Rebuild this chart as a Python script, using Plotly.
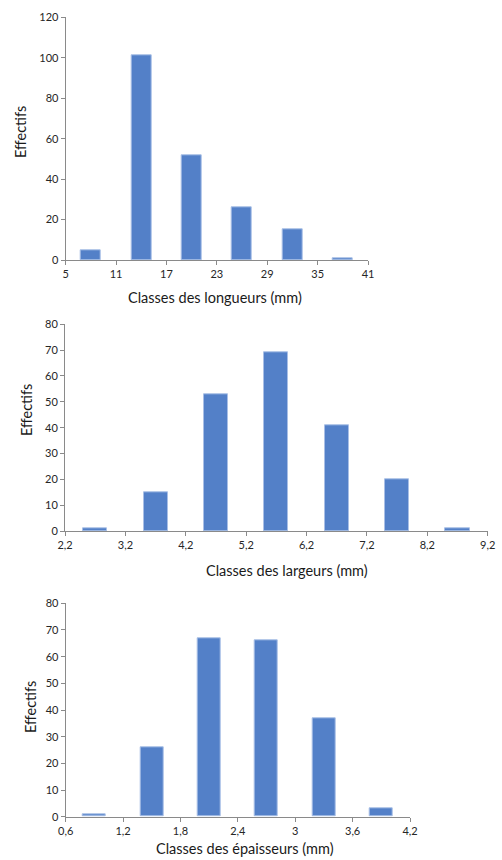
import plotly.graph_objects as go

# Data
long_centers = [8, 14, 20, 26, 32, 38]
long_counts = [5, 101, 52, 26, 15, 1]
long_ticks = [5, 11, 17, 23, 29, 35, 41]
long_ticktext = ["5", "11", "17", "23", "29", "35", "41"]

larg_centers = [2.7, 3.7, 4.7, 5.7, 6.7, 7.7, 8.7]
larg_counts = [1, 15, 53, 69, 41, 20, 1]
larg_ticks = [2.2, 3.2, 4.2, 5.2, 6.2, 7.2, 8.2, 9.2]
larg_ticktext = ["2,2", "3,2", "4,2", "5,2", "6,2", "7,2", "8,2", "9,2"]

ep_centers = [0.9, 1.5, 2.1, 2.7, 3.3, 3.9]
ep_counts = [1, 26, 67, 66, 37, 3]
ep_ticks = [0.6, 1.2, 1.8, 2.4, 3.0, 3.6, 4.2]
ep_ticktext = ["0,6", "1,2", "1,8", "2,4", "3", "3,6", "4,2"]

BAR = "#5380C8"
AXC = "#8a8a8a"
FONT = "Lato"

fig = go.Figure()
fig.add_trace(go.Bar(x=long_centers, y=long_counts, width=2.4, xaxis="x", yaxis="y",
                     marker=dict(color=BAR, line=dict(color="#a9bfe6", width=1))))
fig.add_trace(go.Bar(x=larg_centers, y=larg_counts, width=0.4, xaxis="x2", yaxis="y2",
                     marker=dict(color=BAR, line=dict(color="#a9bfe6", width=1))))
fig.add_trace(go.Bar(x=ep_centers, y=ep_counts, width=0.24, xaxis="x3", yaxis="y3",
                     marker=dict(color=BAR, line=dict(color="#a9bfe6", width=1))))

W, H = 502, 860

def dom_x(a, b):
    return [a / W, b / W]

def dom_y(top, bottom):
    return [(H - bottom) / H, (H - top) / H]

def xax(dom, rng, tv, tt, anchor):
    return dict(domain=dom, range=rng, tickvals=tv, ticktext=tt, anchor=anchor,
                showgrid=False, zeroline=False, showline=True, linecolor=AXC, linewidth=1,
                ticks="outside", ticklen=4, tickcolor=AXC, automargin=False,
                tickfont=dict(family=FONT, size=11, color="#262626"))

def yax(dom, rng, dt, anchor):
    return dict(domain=dom, range=rng, dtick=dt, tick0=0, anchor=anchor,
                showgrid=False, zeroline=False, showline=True, linecolor=AXC, linewidth=1,
                ticks="outside", ticklen=4, tickcolor=AXC, automargin=False,
                tickfont=dict(family=FONT, size=11, color="#262626"))

fig.update_layout(
    width=W, height=H,
    margin=dict(l=0, r=0, t=0, b=0, pad=0, autoexpand=False),
    paper_bgcolor="white", plot_bgcolor="white",
    showlegend=False,
    bargap=0,
    xaxis=xax(dom_x(65.7, 368), [5, 41], long_ticks, long_ticktext, "y"),
    yaxis=yax(dom_y(17.3, 260), [0, 120], 20, "x"),
    xaxis2=xax(dom_x(65, 487.7), [2.2, 9.2], larg_ticks, larg_ticktext, "y2"),
    yaxis2=yax(dom_y(324.3, 531), [0, 80], 10, "x2"),
    xaxis3=xax(dom_x(65.7, 410), [0.6, 4.2], ep_ticks, ep_ticktext, "y3"),
    yaxis3=yax(dom_y(603.3, 816.7), [0, 80], 10, "x3"),
)

def ann(text, x, y, angle=0):
    fig.add_annotation(text=text, x=x / W, y=(H - y) / H, xref="paper", yref="paper",
                       showarrow=False, textangle=angle, xanchor="center", yanchor="middle",
                       font=dict(family=FONT, size=14.5, color="#1a1a1a"))

ann("Classes des longueurs (mm)", 215, 297)
ann("Effectifs", 20, 132, -90)
ann("Classes des largeurs (mm)", 287, 570)
ann("Effectifs", 27, 410, -90)
ann("Classes des épaisseurs (mm)", 245, 848)
ann("Effectifs", 30, 707, -90)

fig.write_html("out.html", config={"responsive": False, "displayModeBar": False},
               post_script="document.body.style.margin='0';document.body.style.overflow='hidden';")
